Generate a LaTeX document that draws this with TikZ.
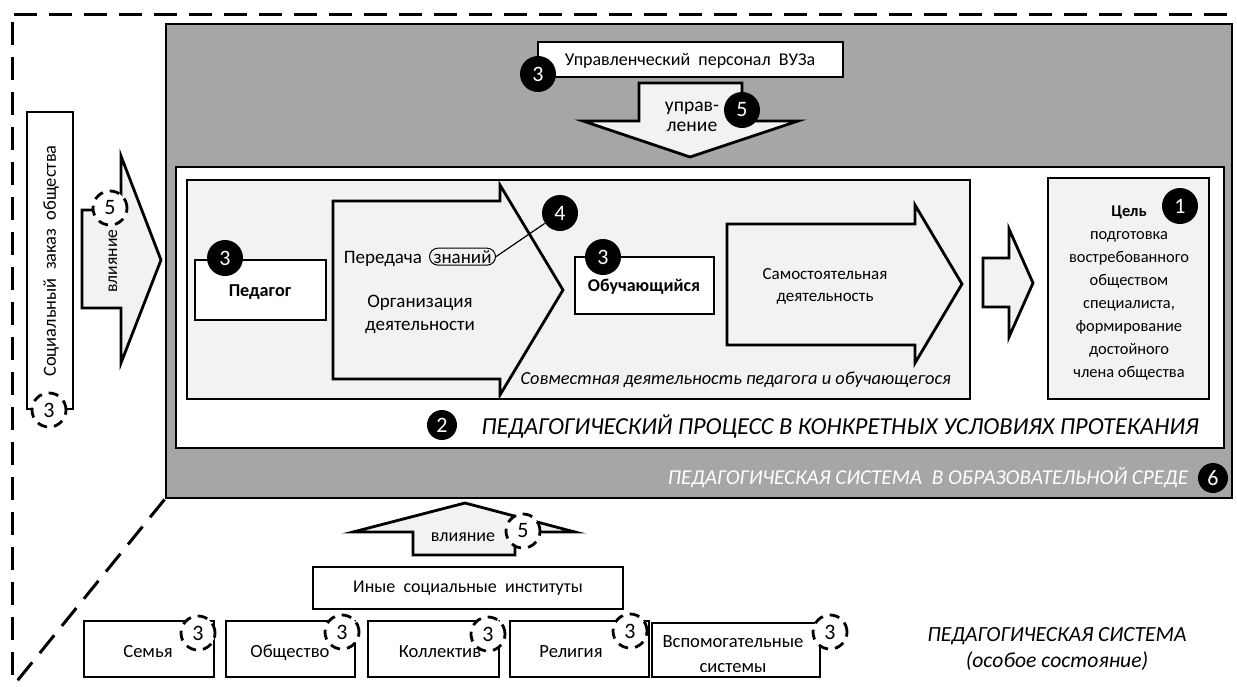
\documentclass[tikz,border=0pt]{standalone}
\usepackage{fontspec}
\setmainfont{Carlito}
\usepackage{xcolor}
\usepackage{tikz}
\usetikzlibrary{positioning, fit, shapes.misc}
\definecolor{sysgray}{HTML}{A6A6A6}
\definecolor{lightfill}{HTML}{F2F2F2}
\tikzstyle{box} = [rectangle, draw, line width=1.4pt, fill=white, inner sep=0pt]
\tikzstyle{lightbox} = [box, fill=lightfill]
\tikzstyle{inst} = [font=\fontsize{9.3}{12.5}\selectfont]
\tikzstyle{blockarrow} = [draw, line width=1.4pt, fill=lightfill]
\tikzstyle{num} = [circle, fill=black, text=white, minimum size=18pt, inner sep=0pt, font=\fontsize{11}{12}\selectfont]
\tikzstyle{dnum} = [circle, draw, fill=white, line width=1.4pt, dash pattern=on 5pt off 3.5pt, minimum size=17pt, inner sep=0pt, font=\fontsize{11}{12}\selectfont]
\tikzstyle{borderline} = [line width=1.5pt, dash pattern=on 11.5pt off 6pt]

\begin{document}
\begin{tikzpicture}[x=0.5pt, y=-0.5pt, font=\fontsize{9.5}{11.5}\selectfont]
                \useasboundingbox (0,0) rectangle (1237,686);
                % outer frame
                \draw[borderline] (14,14) -- (1237,14);
                \draw[borderline] (12,22) -- (12,686);
                \node[box, fill=sysgray, fit={(166,24) (1232,498)}] (sys) {};
                \draw[borderline] (sys.south west) -- (13,686);
                \node[box, fit={(176,167) (1224,448)}] (proc) {};
                \node[lightbox, line width=1.2pt, fit={(187,180) (970,399)}] (joint) {};
                \node[lightbox, fit={(1048,178) (1209,399)}] (goal) {};

                % management
                \node[box, fit={(538,42) (843,77)}] (admin) {};
                \node[font=\fontsize{9}{11}\selectfont] (adminT) at (690,61) {Управленческий \ персонал \ ВУЗа};
                \draw[blockarrow] (639,83) -- (742,83) -- (742,121) -- (798,121) -- (690,157) -- (583,121) -- (639,121) -- cycle;
                \node[align=center, font=\fontsize{9.8}{10}\selectfont] (manage) at (692,117) {управ-\\ление};
                \node[num] (n5a) at (742,110) {5};
                \node[num] (n3a) at (538,74) {3};

                % social order
                \node[box, fit={(27,112) (73,409)}] (soc) {};
                \node[rotate=90, font=\fontsize{9.2}{10}\selectfont] (socT) at (51,261) {Социальный \ заказ \ общества};
                \node[dnum] (n3s) at (49,410) {3};
                \draw[blockarrow] (82,210) -- (121,210) -- (121,156) -- (161,260) -- (121,363) -- (121,308) -- (82,308) -- cycle;
                \node[rotate=90, font=\fontsize{8.8}{9}\selectfont] (inflL) at (113,261) {влияние};
                \node[dnum] (n5s) at (110,208) {5};

                % joint activity
                \node[box, fit={(195,260) (326,320)}] (ped) {};
                \node[font=\fontsize{9.1}{11}\selectfont\bfseries] (pedT) at (260,292) {Педагог};
                \node[num] (n3p) at (225,258) {3};
                \draw[blockarrow] (333,201) -- (500,201) -- (500,185) -- (563,290) -- (500,395) -- (500,379) -- (333,379) -- cycle;
                \node[anchor=base east] (per) at (429,263) {Передача};
                \node[rounded rectangle, draw, line width=0.5pt, inner xsep=0.5pt, inner ysep=1pt, base right=0pt of per] (zn) {знаний};
                \node[align=center] (org) at (420,314) {Организация\\деятельности};
                \node[num] (n4) at (560,213) {4};
                \draw[line width=0.6pt] (zn.east) -- (n4);
                \node[box, fit={(575,257) (714,314)}] (obu) {};
                \node[font=\fontsize{9}{11}\selectfont\bfseries] (obuT) at (644,287) {Обучающийся};
                \node[num] (n3o) at (603,257) {3};
                \draw[blockarrow] (727,224) -- (915,224) -- (915,205) -- (962,284) -- (915,363) -- (915,345) -- (727,345) -- cycle;
                \node[align=center, font=\fontsize{8.5}{11}\selectfont] (self) at (825,286) {Самостоятельная\\деятельность};
                \node[anchor=east, font=\fontsize{9.2}{11}\selectfont\itshape] (jointT) at (958,380) {Совместная деятельность педагога и обучающегося};

                % goal
                \draw[blockarrow] (983,258) -- (1009,258) -- (1009,229) -- (1033,283) -- (1009,337) -- (1009,307) -- (983,307) -- cycle;
                \node[align=center, font=\fontsize{8.2}{11.5}\selectfont] (goalT) at (1129,293) {\textbf{Цель}\\подготовка\\востребованного\\обществом\\специалиста,\\формирование\\достойного\\члена общества};
                \node[num] (n1) at (1180,206) {1};

                \node[num, minimum size=15pt] (n2) at (442,425) {2};
                \node[font=\fontsize{12.2}{14}\selectfont\itshape] (procT) at (840,427) {ПЕДАГОГИЧЕСКИЙ ПРОЦЕСС В КОНКРЕТНЫХ УСЛОВИЯХ ПРОТЕКАНИЯ};
                \node[text=white, font=\fontsize{10.6}{13}\selectfont\itshape] (sysT) at (928,478) {ПЕДАГОГИЧЕСКАЯ СИСТЕМА \ В ОБРАЗОВАТЕЛЬНОЙ СРЕДЕ};
                \node[num, minimum size=15pt] (n6) at (1213,478) {6};

                % other institutions
                \draw[blockarrow] (413,555) -- (413,532) -- (353,532) -- (465,503) -- (575,532) -- (515,532) -- (515,555) -- cycle;
                \node[font=\fontsize{9}{9}\selectfont] (inflB) at (463,537) {влияние};
                \node[dnum] (n5b) at (523,531) {5};
                \node[box, fit={(313,567) (623,609)}] (other) {};
                \node[font=\fontsize{9}{11}\selectfont] (otherT) at (468,588) {Иные \ социальные \ институты};
                \node[box, fit={(84,621) (214,677)}] (fam) {};
                \node[box, fit={(226,621) (355,677)}] (soct) {};
                \node[box, fit={(368,621) (499,677)}] (coll) {};
                \node[box, fit={(510,621) (649,677)}] (rel) {};
                \node[box, fit={(652,623) (820,677)}] (aux) {};
                \node[inst, anchor=base] (famT) at (148,657) {Семья};
                \node[inst, anchor=base] (soctT) at (290,657) {Общество};
                \node[inst, anchor=base] (collT) at (440,657) {Коллектив};
                \node[inst, anchor=base] (relT) at (571,657) {Религия};
                \node[inst, align=center] (auxT) at (733,654) {Вспомогательные\\системы};
                \node[dnum] (n3f) at (198,633) {3};
                \node[dnum] (n3so) at (342,632) {3};
                \node[dnum] (n3c) at (488,634) {3};
                \node[dnum] (n3r) at (630,631) {3};
                \node[dnum] (n3x) at (830,632) {3};

                \node[align=center, font=\fontsize{10.8}{13}\selectfont\itshape] (stateT) at (1057,649) {ПЕДАГОГИЧЕСКАЯ СИСТЕМА\\(особое состояние)};
            \end{tikzpicture}
\end{document}
